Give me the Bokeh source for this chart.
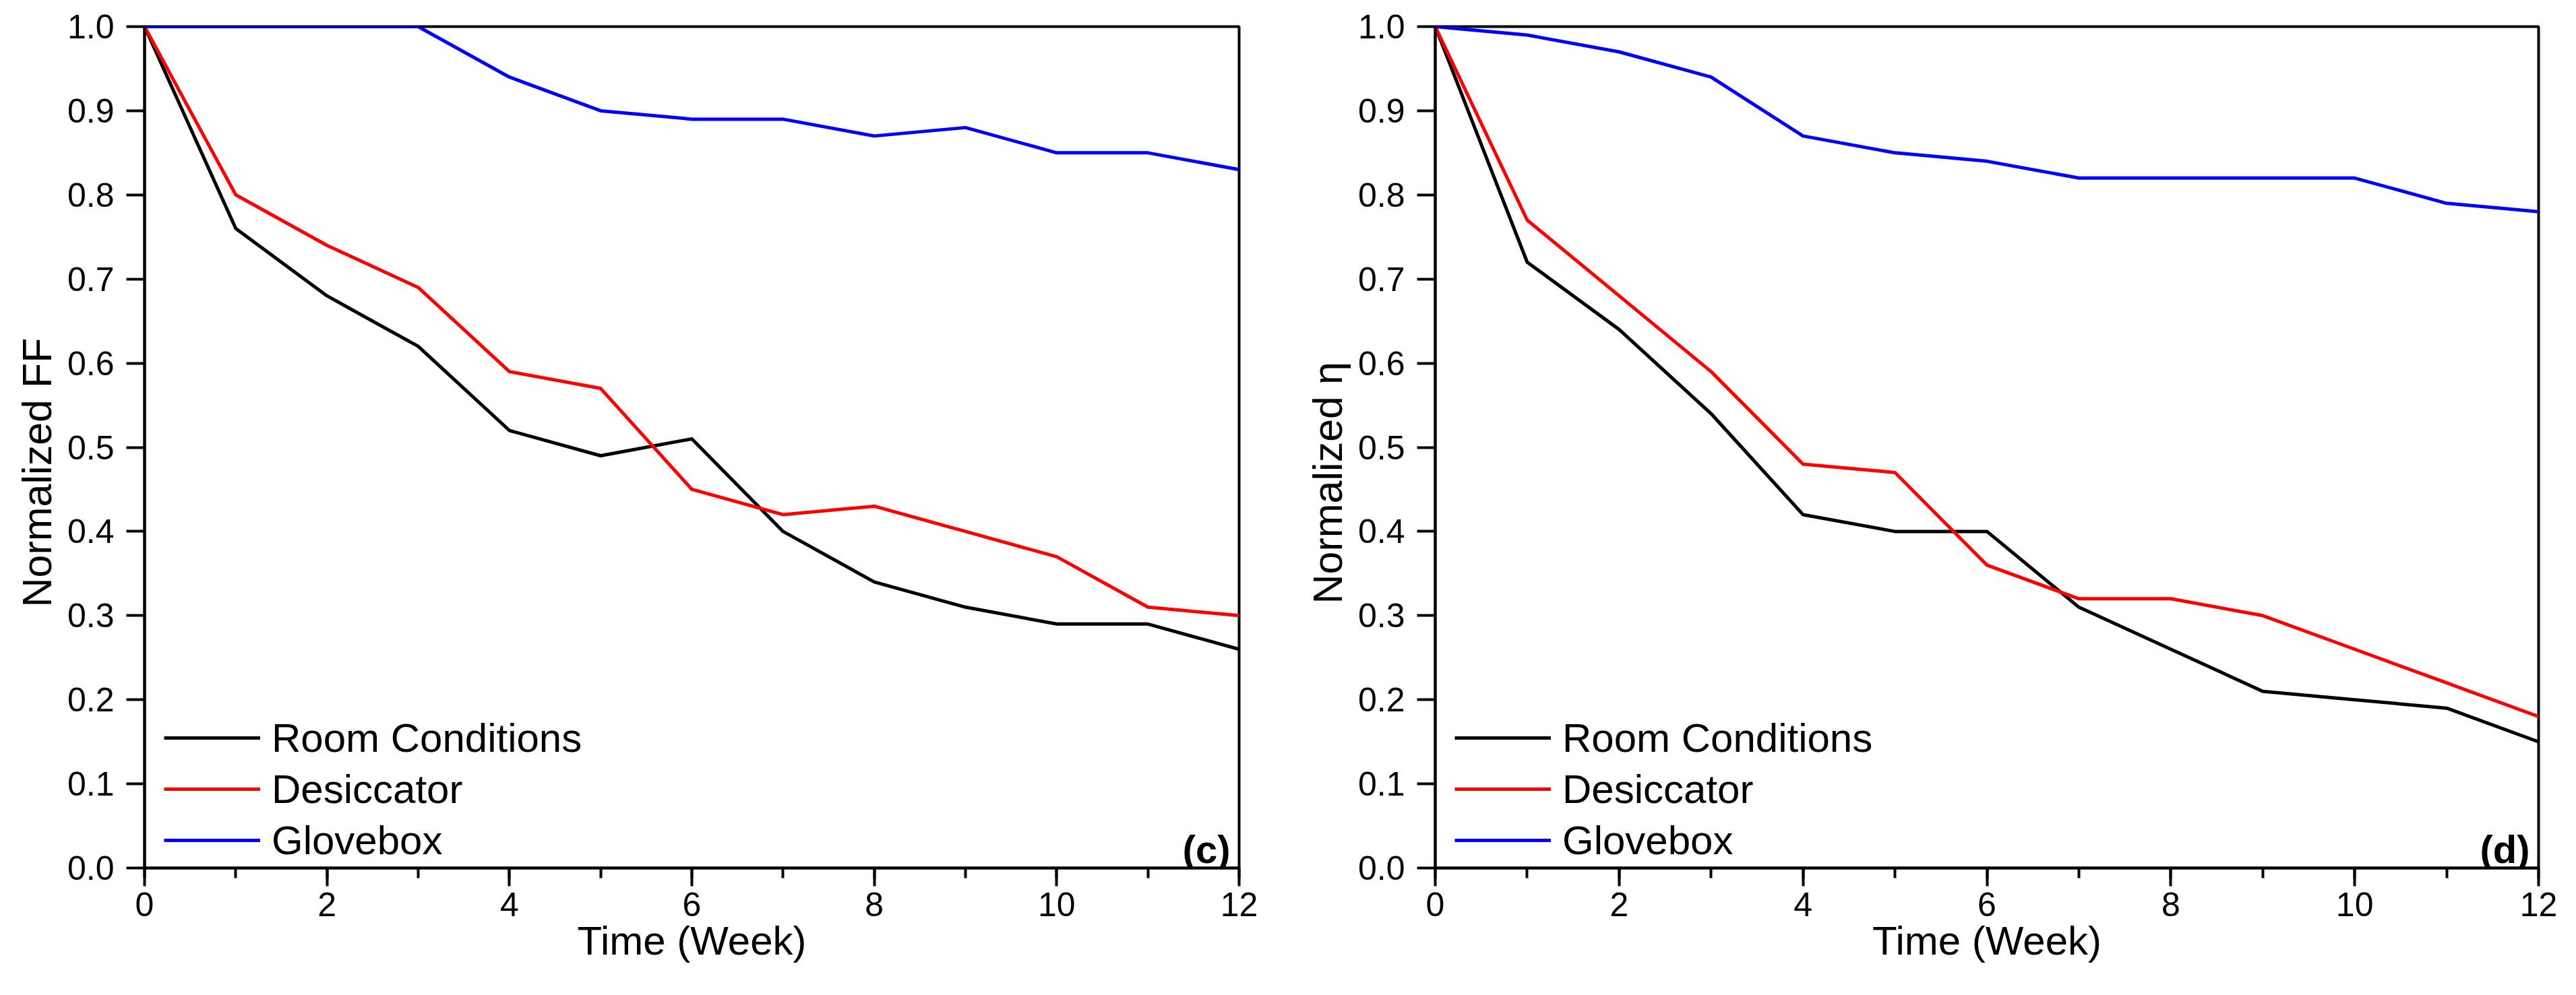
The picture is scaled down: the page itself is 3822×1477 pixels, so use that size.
import math
from bokeh.plotting import figure
from bokeh.layouts import row
from bokeh.models import Range1d, SingleIntervalTicker, PrintfTickFormatter, Label, Title
from bokeh.embed import file_html
from bokeh.resources import INLINE

# ---------------- data ----------------
weeks = [0, 1, 2, 3, 4, 5, 6, 7, 8, 9, 10, 11, 12]

# panel (c): Normalized FF
ff_room = [1.0, 0.76, 0.68, 0.62, 0.52, 0.49, 0.51, 0.40, 0.34, 0.31, 0.29, 0.29, 0.26]
ff_desiccator = [1.0, 0.80, 0.74, 0.69, 0.59, 0.57, 0.45, 0.42, 0.43, 0.40, 0.37, 0.31, 0.30]
ff_glovebox = [1.0, 1.0, 1.0, 1.0, 0.94, 0.90, 0.89, 0.89, 0.87, 0.88, 0.85, 0.85, 0.83]

# panel (d): Normalized efficiency
eta_room = [1.0, 0.72, 0.64, 0.54, 0.42, 0.40, 0.40, 0.31, 0.26, 0.21, 0.20, 0.19, 0.15]
eta_desiccator = [1.0, 0.77, 0.68, 0.59, 0.48, 0.47, 0.36, 0.32, 0.32, 0.30, 0.26, 0.22, 0.18]
eta_glovebox = [1.0, 0.99, 0.97, 0.94, 0.87, 0.85, 0.84, 0.82, 0.82, 0.82, 0.82, 0.79, 0.78]

series_names = ["Room Conditions", "Desiccator", "Glovebox"]
series_colors = ["#000000", "#FF0000", "#0000FF"]

FONT = "Liberation Sans"


def make_panel(ys, ylabel, tag, width, height, bl, br, bt, bb):
    fw = width - bl - br
    fh = height - bt - bb
    p = figure(width=width, height=height, output_backend="svg", toolbar_location=None,
               x_range=Range1d(0, 12), y_range=Range1d(0, 1.0),
               min_border_left=bl, min_border_right=br, min_border_top=bt, min_border_bottom=bb)
    p.background_fill_color = "white"
    p.border_fill_color = "white"
    p.xgrid.visible = False
    p.ygrid.visible = False
    p.outline_line_color = "black"
    p.outline_line_width = 4

    for y, name, col in zip(ys, series_names, series_colors):
        p.line(weeks, y, line_color=col, line_width=5, legend_label=name, line_join="round")

    # x axis
    xa = p.xaxis[0]
    xa.ticker = SingleIntervalTicker(interval=2, num_minor_ticks=2)
    xa.axis_label = "Time (Week)"
    xa.axis_label_text_font = FONT
    xa.axis_label_text_font_size = "60px"
    xa.axis_label_text_font_style = "normal"
    xa.axis_label_text_color = "black"
    xa.axis_label_standoff = 0
    xa.major_label_text_font = FONT
    xa.major_label_text_font_size = "50px"
    xa.major_label_text_color = "black"
    xa.major_label_standoff = 9
    xa.axis_line_width = 4
    xa.major_tick_line_width = 4
    xa.minor_tick_line_width = 4
    xa.major_tick_out = 27
    xa.major_tick_in = 0
    xa.minor_tick_out = 15
    xa.minor_tick_in = 0

    # y axis
    ya = p.yaxis[0]
    ya.ticker = SingleIntervalTicker(interval=0.1, num_minor_ticks=0)
    ya.formatter = PrintfTickFormatter(format="%.1f")
    ya.major_label_text_font = FONT
    ya.major_label_text_font_size = "50px"
    ya.major_label_text_color = "black"
    ya.major_label_standoff = 18
    ya.axis_line_width = 4
    ya.major_tick_line_width = 4
    ya.major_tick_out = 27
    ya.major_tick_in = 0
    ya.minor_tick_line_color = None

    # y axis title, set a little below the centre as in the original
    p.add_layout(Title(text=ylabel, align="left", offset=int(fh / 2 - 40 - 197),
                       text_font=FONT, text_font_size="61px", text_font_style="normal",
                       text_color="black", standoff=16), "left")

    # panel tag
    p.add_layout(Label(x=12 - 13 * 12 / fw, y=28 / fh, text=tag,
                       text_align="right", text_baseline="alphabetic",
                       text_font=FONT, text_font_size="58px", text_font_style="bold",
                       text_color="black"))

    lg = p.legend[0]
    lg.location = (29, 3)
    lg.padding = 0
    lg.margin = 0
    lg.spacing = 0
    lg.glyph_width = 143
    lg.glyph_height = 76
    lg.label_standoff = 17
    lg.label_text_font = FONT
    lg.label_text_font_size = "60px"
    lg.label_text_color = "black"
    lg.border_line_color = None
    lg.background_fill_alpha = 0
    return p


p1 = make_panel([ff_room, ff_desiccator, ff_glovebox], "Normalized FF", "(c)",
                1903, 1461, 214, 65, 39, 173)
p2 = make_panel([eta_room, eta_desiccator, eta_glovebox], "Normalized \u03b7", "(d)",
                1903, 1461, 226, 40, 38, 165)

layout = row(p1, p2)
open("out.html", "w").write(file_html(layout, INLINE))
